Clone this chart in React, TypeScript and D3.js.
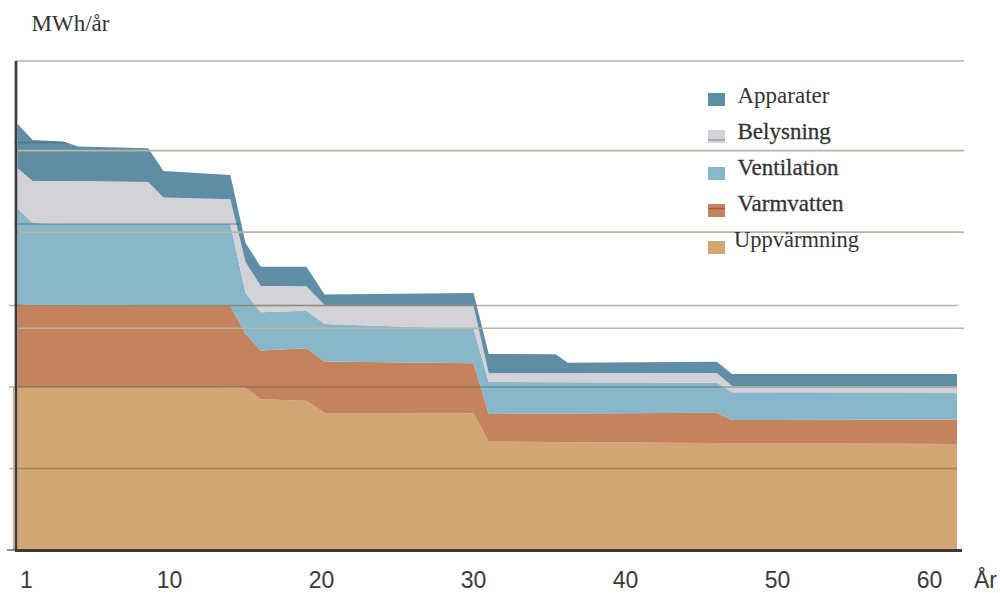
import React from "react";
import * as d3 from "d3";

// ---- data (MWh/år, arbitrary units; one gridline = 10) ----
const years = [0, 1, 3, 4, 8.6, 9.6, 14, 15, 16, 19, 20.2, 30, 31, 35.4, 36.2, 46, 47, 61.8];
const uppvarmning = [20.0, 20.0, 20.0, 20.0, 20.0, 20.0, 19.96, 19.94, 18.49, 18.32, 16.81, 16.77, 13.29, 13.25, 13.23, 13.13, 13.1, 13.01];
const varmvatten = [10.18, 10.12, 10.1, 10.09, 10.06, 10.06, 10.04, 6.56, 5.99, 6.43, 6.32, 6.13, 3.4, 3.5, 3.53, 3.72, 2.85, 3.01];
const ventilation = [11.74, 10.0, 9.9, 9.91, 9.94, 9.94, 10.0, 5.03, 4.69, 4.61, 4.6, 4.21, 3.93, 3.84, 3.82, 3.68, 3.4, 3.29];
const belysning = [4.91, 5.15, 5.28, 5.28, 5.15, 3.25, 3.03, 3.8, 3.23, 2.99, 2.33, 2.82, 1.07, 1.09, 1.1, 1.19, 0.77, 0.82];
const apparater = [5.44, 5.03, 4.85, 4.23, 4.13, 3.25, 2.98, 2.33, 2.37, 2.4, 1.29, 1.6, 2.37, 2.33, 1.3, 1.39, 1.47, 1.47];

const seriesKeys = ["Uppvärmning", "Varmvatten", "Ventilation", "Belysning", "Apparater"];
const seriesValues = [uppvarmning, varmvatten, ventilation, belysning, apparater];
const seriesColors = ["#d3a773", "#c5825f", "#87b7c9", "#d3d2d9", "#5e8ea6"];
const legendOrder = ["Apparater", "Belysning", "Ventilation", "Varmvatten", "Uppvärmning"];
const swatchLines: Record<string, string> = { Belysning: "#9c9ca6", Varmvatten: "#9e5f45" };

const xTicks = [1, 10, 20, 30, 40, 50, 60];
const majorGrid = [10, 20, 30, 40, 50];
const beigeGrid = [60, 49, 39, 30, 27.2];

const W = 1000;
const H = 593;

export default function App() {
  const x = d3.scaleLinear().domain([0, 61.8]).range([17.5, 957]);
  const y = d3.scaleLinear().domain([0, 60]).range([550, 61]);

  const rows = years.map((yr, i) => {
    const r: any = { year: yr };
    seriesKeys.forEach((k, j) => (r[k] = seriesValues[j][i]));
    return r;
  });
  const stack = d3.stack<any>().keys(seriesKeys)(rows);
  const area = d3
    .area<any>()
    .x((d) => x(d.data.year))
    .y0((d) => y(d[0]))
    .y1((d) => y(d[1]));
  const totalArea = d3
    .area<any>()
    .x((d) => x(d.data.year))
    .y0(() => y(0))
    .y1((d) => y(d[1]));

  const beige = "#b7b6a0";
  const axisColor = "#3a3a3a";
  const serif = "'Liberation Serif', 'Times New Roman', serif";
  const sans = "'Liberation Sans', Arial, sans-serif";

  return (
    <svg
      width={W}
      height={H}
      style={{ position: "absolute", left: 0, top: 0, background: "#fff" }}
    >
      <defs>
        <clipPath id="stackClip">
          <path d={totalArea(stack[stack.length - 1]) || ""} />
        </clipPath>
      </defs>

      {/* y label */}
      <text x={31.5} y={30.5} fontFamily={serif} fontSize={23} fill="#333">
        MWh/år
      </text>

      {/* areas */}
      {stack.map((s, i) => (
        <path key={s.key} d={area(s) || ""} fill={seriesColors[i]} />
      ))}

      {/* tan strip left of axis */}
      <line
        x1={13.5}
        x2={13.5}
        y1={y(0)}
        y2={y(uppvarmning[0])}
        stroke={seriesColors[0]}
        strokeWidth={1.3}
      />

      {/* beige gridlines */}
      {beigeGrid.map((v) => (
        <line
          key={"b" + v}
          x1={16}
          x2={v === 30 ? 958 : 964}
          y1={y(v)}
          y2={y(v)}
          stroke={beige}
          strokeWidth={1.6}
        />
      ))}

      {/* dark gridlines inside filled area */}
      <g clipPath="url(#stackClip)">
        {majorGrid.map((v) => (
          <line
            key={"g" + v}
            x1={16}
            x2={960}
            y1={y(v)}
            y2={y(v)}
            stroke="#4e4e44"
            strokeOpacity={0.4}
            strokeWidth={1.6}
          />
        ))}
      </g>

      {/* left ticks */}
      {majorGrid.map((v) => (
        <line
          key={"t" + v}
          x1={v <= 30 ? 9 : 14}
          x2={16}
          y1={y(v)}
          y2={y(v)}
          stroke={beige}
          strokeWidth={1.5}
        />
      ))}
      <line x1={7} x2={16} y1={y(0)} y2={y(0)} stroke={axisColor} strokeWidth={1.2} />

      {/* axes */}
      <line x1={16} x2={16} y1={y(60)} y2={y(0) + 1.5} stroke={axisColor} strokeWidth={2.7} />
      <line x1={15} x2={962} y1={y(0) + 0.4} y2={y(0) + 0.4} stroke={axisColor} strokeWidth={3} />

      {/* x tick labels */}
      {xTicks.map((t, i) => (
        <text
          key={"x" + t}
          x={x(t)}
          y={588}
          textAnchor={i === 0 ? "end" : "middle"}
          fontFamily={sans}
          fontSize={23}
          fill="#3a3a3a"
        >
          {t}
        </text>
      ))}
      <text x={974} y={588} fontFamily={sans} fontSize={23} fill="#3a3a3a">
        År
      </text>

      {/* legend */}
      {legendOrder.map((name, i) => {
        const idx = seriesKeys.indexOf(name);
        const top = 93 + i * 37;
        return (
          <g key={"l" + name}>
            <rect x={708} y={top} width={17} height={13} fill={seriesColors[idx]} />
            {swatchLines[name] && (
              <line
                x1={708}
                x2={725}
                y1={top + (name === "Belysning" ? 10 : 4.5)}
                y2={top + (name === "Belysning" ? 10 : 4.5)}
                stroke={swatchLines[name]}
                strokeWidth={1.5}
              />
            )}
            <text
              x={name === "Uppvärmning" ? 734 : 737.5}
              y={103 + i * 35.9}
              fontFamily={serif}
              fontSize={name === "Uppvärmning" ? 22.5 : 23}
              fill="#333"
              stroke={name === "Apparater" || name === "Uppvärmning" ? "none" : "#333"}
              strokeWidth={0.3}
            >
              {name}
            </text>
          </g>
        );
      })}
    </svg>
  );
}
